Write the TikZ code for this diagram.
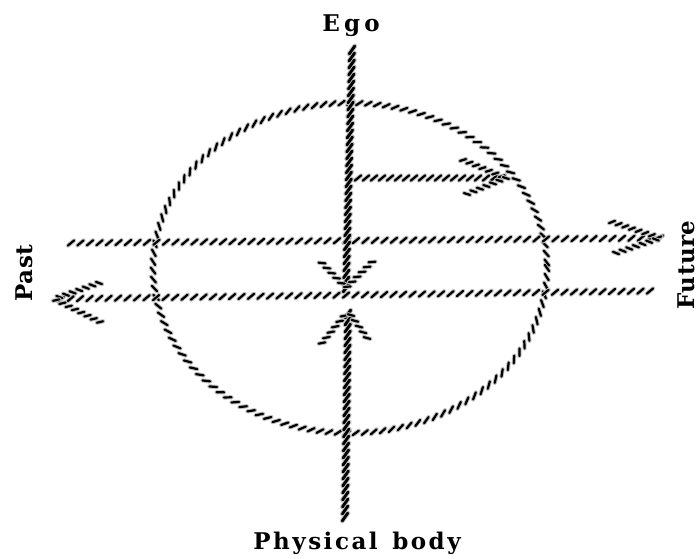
\documentclass[tikz,border=0pt]{standalone}
\usepackage{fontspec}
\newfontfamily\lblfont{DejaVu Serif}
\usetikzlibrary{decorations.markings}
\tikzset{
  halo/.style={draw=black!25, line width=4.2pt, line cap=round},
  ink/.style={draw=black, line width=2.2pt, line cap=round},
  inkthick/.style={draw=black, line width=2.8pt, line cap=round},
  halothick/.style={draw=black!25, line width=4.8pt, line cap=round},
  lbl/.style={inner sep=0pt},
}
% global-orientation hatching: #1 step, #2 angle, #3 half length, #4 ink style, #5 halo style, #6 path
\newcommand\hatchg[6]{%
  \path[postaction={decorate,decoration={markings,mark=between positions 0 and 1 step #1 with {\pgftransformresetnontranslations\draw[#5] (#2:#3) -- (#2+180:#3);}}},
        postaction={decorate,decoration={markings,mark=between positions 0 and 1 step #1 with {\pgftransformresetnontranslations\draw[#4] (#2:#3) -- (#2+180:#3);}}}] #6;}
% tangent-relative hatching
\newcommand\hatchl[6]{%
  \path[postaction={decorate,decoration={markings,mark=between positions 0 and 1 step #1 with {\draw[#5] (#2:#3) -- (#2+180:#3);}}},
        postaction={decorate,decoration={markings,mark=between positions 0 and 1 step #1 with {\draw[#4] (#2:#3) -- (#2+180:#3);}}}] #6;}
\newcommand\lbltext[2]{{\lblfont\bfseries\fontsize{23}{27}\selectfont\addfontfeature{LetterSpace=#1}#2}}
\begin{document}
\begin{tikzpicture}[x=1pt,y=-1pt]
\useasboundingbox (0,0) rectangle (699,559);
% coordinates
\coordinate (C) at (350,268);
\coordinate (vtop) at (352,50);
\coordinate (vtip) at (346,288);
\coordinate (vtl) at (322,263);
\coordinate (vtr) at (372,262);
\coordinate (vbot) at (345,517);
\coordinate (vbtip) at (348,311);
\coordinate (vbl) at (322,343);
\coordinate (vbr) at (367,338);
\coordinate (sa) at (358,178);
\coordinate (satip) at (506,178);
\coordinate (sau) at (463,160);
\coordinate (sad) at (467,194);
\coordinate (fl) at (71,243);
\coordinate (ftip) at (660,238);
\coordinate (fu) at (612,222);
\coordinate (fd) at (616,253);
\coordinate (pr) at (650,291);
\coordinate (ptip) at (54,299);
\coordinate (pu) at (99,283);
\coordinate (pd) at (100,322);
% ellipse
\hatchl{9pt}{-35}{3.8}{ink}{halo}{(C) ellipse [x radius=197, y radius=165]}
% horizontal lines
\hatchg{9.5pt}{-40}{4}{ink}{halo}{(fl) -- (ftip)}
\hatchl{7pt}{-40}{3.2}{ink}{halo}{(fu) -- (ftip)}
\hatchl{7pt}{40}{3.2}{ink}{halo}{(fd) -- (ftip)}
\hatchg{9.5pt}{-40}{4}{ink}{halo}{(pr) -- (ptip)}
\hatchl{7pt}{40}{3.2}{ink}{halo}{(pu) -- (ptip)}
\hatchl{7pt}{-40}{3.2}{ink}{halo}{(pd) -- (ptip)}
% small arrow
\hatchg{8pt}{-40}{4}{ink}{halo}{(sa) -- (satip)}
\hatchl{7pt}{-40}{3.2}{ink}{halo}{(sau) -- (satip)}
\hatchl{7pt}{40}{3.2}{ink}{halo}{(sad) -- (satip)}
% vertical lines
\hatchg{7pt}{-55}{4.8}{inkthick}{halothick}{(vtop) -- (vtip)}
\hatchl{7pt}{-40}{3.4}{ink}{halo}{(vtl) -- (vtip)}
\hatchl{7pt}{40}{3.4}{ink}{halo}{(vtr) -- (vtip)}
\hatchg{7pt}{-55}{4.8}{inkthick}{halothick}{(vbot) -- (vbtip)}
\hatchl{7pt}{40}{3.4}{ink}{halo}{(vbl) -- (vbtip)}
\hatchl{7pt}{-40}{3.4}{ink}{halo}{(vbr) -- (vbtip)}
% labels
\node[lbl] (ego) at (351,26) {\lbltext{18}{Ego}};
\node[lbl] (body) at (357,543) {\lbltext{11}{Physical\hspace{4pt} body}};
\node[lbl, rotate=90] (past) at (24,273) {\lbltext{3}{Past}};
\node[lbl, rotate=90] (future) at (686,265) {\lbltext{2}{Future}};
\end{tikzpicture}
\end{document}
